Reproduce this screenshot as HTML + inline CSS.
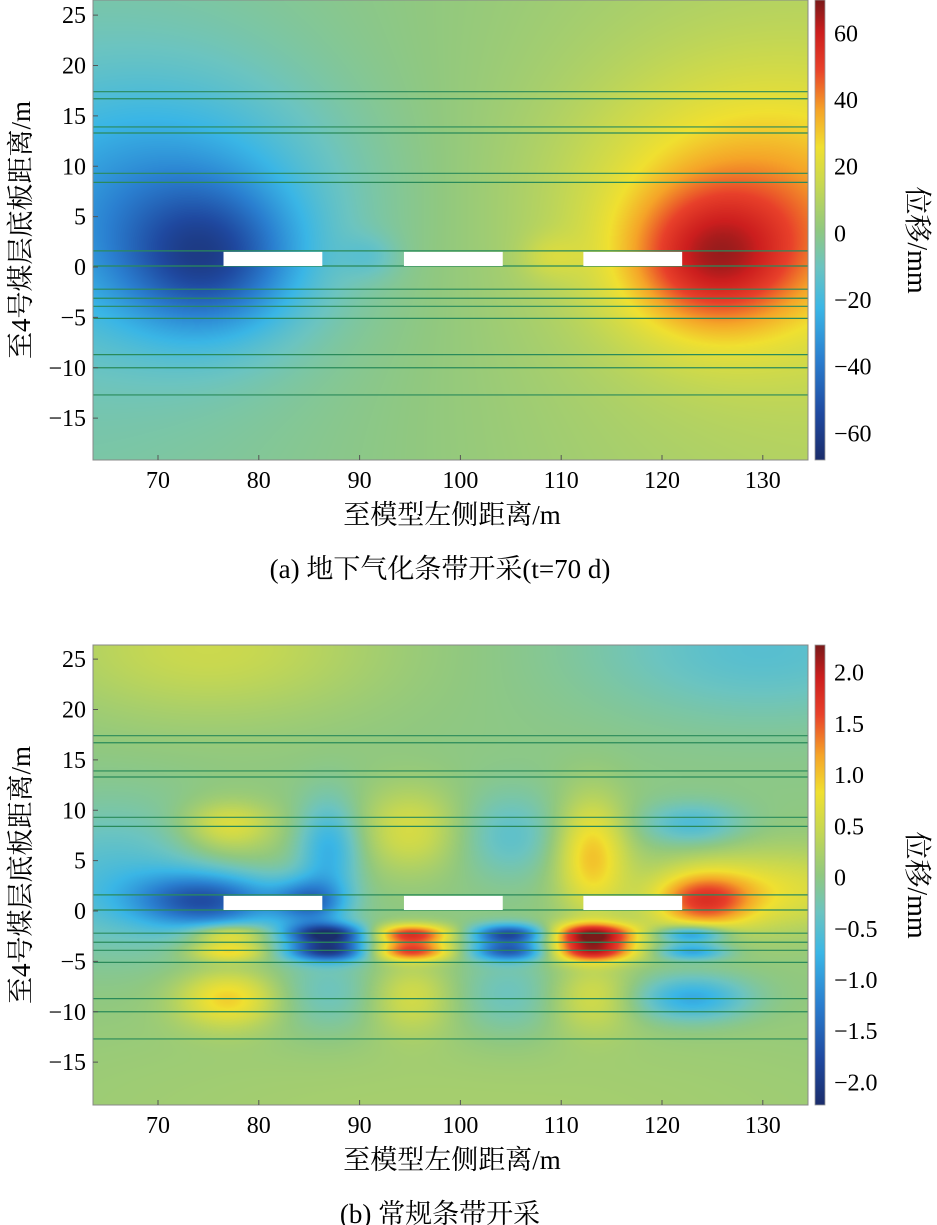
<!DOCTYPE html>
<html><head><meta charset="utf-8"><style>
body{margin:0;background:#fff;width:937px;height:1225px;position:relative;overflow:hidden;font-family:"Liberation Serif","Noto Serif CJK SC",serif;}
canvas{position:absolute;}
</style></head><body>
<svg id="svg" width="937" height="1225" style="position:absolute;left:0;top:0"></svg>
<script>
// ---- data ----
const xTicks=[70,80,90,100,110,120,130];
const yTicks=[25,20,15,10,5,0,-5,-10,-15];
const layerLines=[17.4,16.7,13.9,13.3,9.3,8.4,1.6,0.1,-2.2,-3.1,-3.9,-5.1,-8.7,-10.0,-12.7];
const openingStart=[76.5,94.4,112.2];
const openingEnd=[86.3,104.2,122.0];
// panel a blobs
const aX=[75,125,70,130,64,136,91,109];
const aY=[0.5,0.5,6,6,0,0,1,1];
const aAmp=[-35,35,-28,28,-8,12,-8,8];
const aSX=[6,6,12,12,40,40,2,2];
const aSY=[5,5,9,9,40,40,1.5,1.5];
const aCbTicks=[60,40,20,0,-20,-40,-60];
// panel b blobs
const bX=[77,77,87,95,105,113,123, 75,85,124,131, 77,77,87,87,95,95,105,105,113,113,123,123, 77,87,95,105,113,123, 75,130,66,100];
const bY=[8.6,7,6,8,7.5,5.5,8.6, 1,0.8,1,2, -2.3,-4.0,-2.3,-4.0,-2.3,-4.0,-2.3,-4.0,-2.3,-4.0,-2.3,-4.0, -8.7,-8.2,-8.5,-8.5,-8.5,-8.7, 26,26,3,-20];
const bAmp=[0.5,0.3,-0.8,0.6,-0.45,1.0,-0.6, -1.5,-1.2,1.3,0.7, 1.0,0.9,-2.0,-1.8,1.7,1.5,-1.8,-1.5,2.0,1.7,-1.3,-1.0, 0.9,-0.4,0.55,-0.4,0.55,-0.9, 0.5,-0.5,-0.55,0.2];
const bSX=[3,4,2.2,3.5,3.5,2.5,3.5, 5,2.5,3.5,8, 2.8,2.8,3,3,3,3,2.8,2.8,3.2,3.2,2.5,2.5, 3.5,4,3,4,3,4, 12,12,8,40];
const bSY=[1.5,3,3.5,3,3,4,1.5, 2,1.6,2,3, 0.7,0.7,0.75,0.75,0.7,0.7,0.7,0.7,0.8,0.8,0.6,0.6, 2,3,2.5,3,2.5,1.6, 5,5,5,8];
const bCbTicks=[2.0,1.5,1.0,0.5,0,-0.5,-1.0,-1.5,-2.0];

const cmapStops=[[0,'#1b2d6b'],[0.1,'#1f49a0'],[0.22,'#2a7fd0'],[0.33,'#3ab6e6'],[0.42,'#6cc4c0'],[0.5,'#90c880'],[0.6,'#c8d850'],[0.68,'#f0e030'],[0.76,'#f5a428'],[0.85,'#e8402a'],[0.93,'#cc1e1e'],[1,'#7a1a1a']];
const rgbStops=cmapStops.map(s=>[s[0],parseInt(s[1].slice(1,3),16),parseInt(s[1].slice(3,5),16),parseInt(s[1].slice(5,7),16)]);
function cmap(t){t=Math.max(0,Math.min(1,t));for(let i=1;i<rgbStops.length;i++){if(t<=rgbStops[i][0]){const a=rgbStops[i-1],b=rgbStops[i];const f=(t-a[0])/(b[0]-a[0]);return [a[1]+(b[1]-a[1])*f,a[2]+(b[2]-a[2])*f,a[3]+(b[3]-a[3])*f];}}return rgbStops[rgbStops.length-1].slice(1);}

const svg=document.getElementById('svg');const NS='http://www.w3.org/2000/svg';
function mk(tag,attrs,parent){const e=document.createElementNS(NS,tag);for(const k in attrs)e.setAttribute(k,attrs[k]);(parent||svg).appendChild(e);return e;}
function txt(s,x,y,anchor,parent,size){const e=mk('text',{x:x,y:y,'text-anchor':anchor||'middle','font-size':size||24,'font-family':'"Liberation Serif","Noto Serif CJK SC",serif',fill:'#000'},parent);e.textContent=s;return e;}

function panel(cfg){
  const L=93,R=808,T=cfg.top,B=cfg.top+460;
  const xs=v=>158+(v-70)*10.08;
  const ys=v=>cfg.y0+(-v)*10.075;
  const xinv=p=>70+(p-158)/10.08, yinv=p=>-(p-cfg.y0)/10.075;
  const g=mk('g',{});
  
  
  const c=document.createElement('canvas');c.width=R-L;c.height=B-T;c.style.left=L+'px';c.style.top=T+'px';
  
  
  document.body.insertBefore(c,svg);
  const ctx=c.getContext('2d');const img=ctx.createImageData(c.width,c.height);
  for(let j=0;j<c.height;j++){const y=yinv(T+j+0.5);for(let i=0;i<c.width;i++){const x=xinv(L+i+0.5);let v=0;
    for(let k=0;k<cfg.bx.length;k++){const dx=(x-cfg.bx[k])/cfg.sx[k],dy=(y-cfg.by[k])/cfg.sy[k];v+=cfg.amp[k]*Math.exp(-0.5*(dx*dx+dy*dy));}
    const col=cmap((v-cfg.vmin)/(cfg.vmax-cfg.vmin));const o=(j*c.width+i)*4;img.data[o]=col[0];img.data[o+1]=col[1];img.data[o+2]=col[2];img.data[o+3]=255;}}
  ctx.putImageData(img,0,0);
  layerLines.forEach(v=>{const l=mk('line',{x1:L,x2:R,y1:ys(v),y2:ys(v),stroke:'#2a8a5a','stroke-width':1.2},g);
    });
  openingStart.forEach((s,i)=>{const r=mk('rect',{x:xs(s),y:ys(1.5),width:xs(openingEnd[i])-xs(s),height:ys(0.1)-ys(1.5),fill:'#fff'},g);
    });
  mk('rect',{x:L,y:T,width:R-L,height:B-T,fill:'none',stroke:'#888','stroke-width':1},g);
  xTicks.forEach(v=>{mk('line',{x1:xs(v),x2:xs(v),y1:B,y2:B-5,stroke:'#555'},g);const t=txt(String(v),xs(v),B+28,'middle',g);
    });
  yTicks.forEach(v=>{mk('line',{x1:L,x2:L+5,y1:ys(v),y2:ys(v),stroke:'#555'},g);const t=txt(String(v).replace('-','−'),86,ys(v)+8,'end',g);
    });
  const xt=txt('至模型左侧距离/m',452,B+64,'middle',g,27);
  const yt=txt('至4号煤层底板距离/m',0,0,'middle',g,27);yt.setAttribute('transform','translate(30,'+(T+230)+') rotate(-90)');
  
  const cap=txt(cfg.caption,440,B+118,'middle',g,27);
  const gid='cb'+cfg.name;const lg=mk('linearGradient',{id:gid,x1:0,y1:1,x2:0,y2:0},g);
  cmapStops.forEach(s=>mk('stop',{offset:s[0],'stop-color':s[1]},lg));
  const cb=mk('rect',{x:815,y:T,width:10,height:460,fill:'url(#'+gid+')',stroke:'#999','stroke-width':0.8},g);
  
  const cs=v=>T+460*(cfg.vmax-v)/(cfg.vmax-cfg.vmin);
  cfg.cbTicks.forEach(v=>{const s=v===0?'0':(cfg.fix?Math.abs(v).toFixed(1):String(Math.abs(v)));const t=txt((v<0?'−':'')+s,834,cs(v)+8,'start',g);
    });
  const cl=txt('位移/mm',0,0,'middle',g,28);cl.setAttribute('transform','translate(908,'+(T+240)+') rotate(90)');
  
}
panel({name:'panel-a',top:0,y0:267,bx:aX,by:aY,amp:aAmp,sx:aSX,sy:aSY,vmin:-68,vmax:70,cbTicks:aCbTicks,fix:false,caption:'(a) 地下气化条带开采(t=70 d)'});
panel({name:'panel-b',top:645,y0:911,bx:bX,by:bY,amp:bAmp,sx:bSX,sy:bSY,vmin:-2.22,vmax:2.27,cbTicks:bCbTicks,fix:true,caption:'(b) 常规条带开采'});
</script>
</body></html>
